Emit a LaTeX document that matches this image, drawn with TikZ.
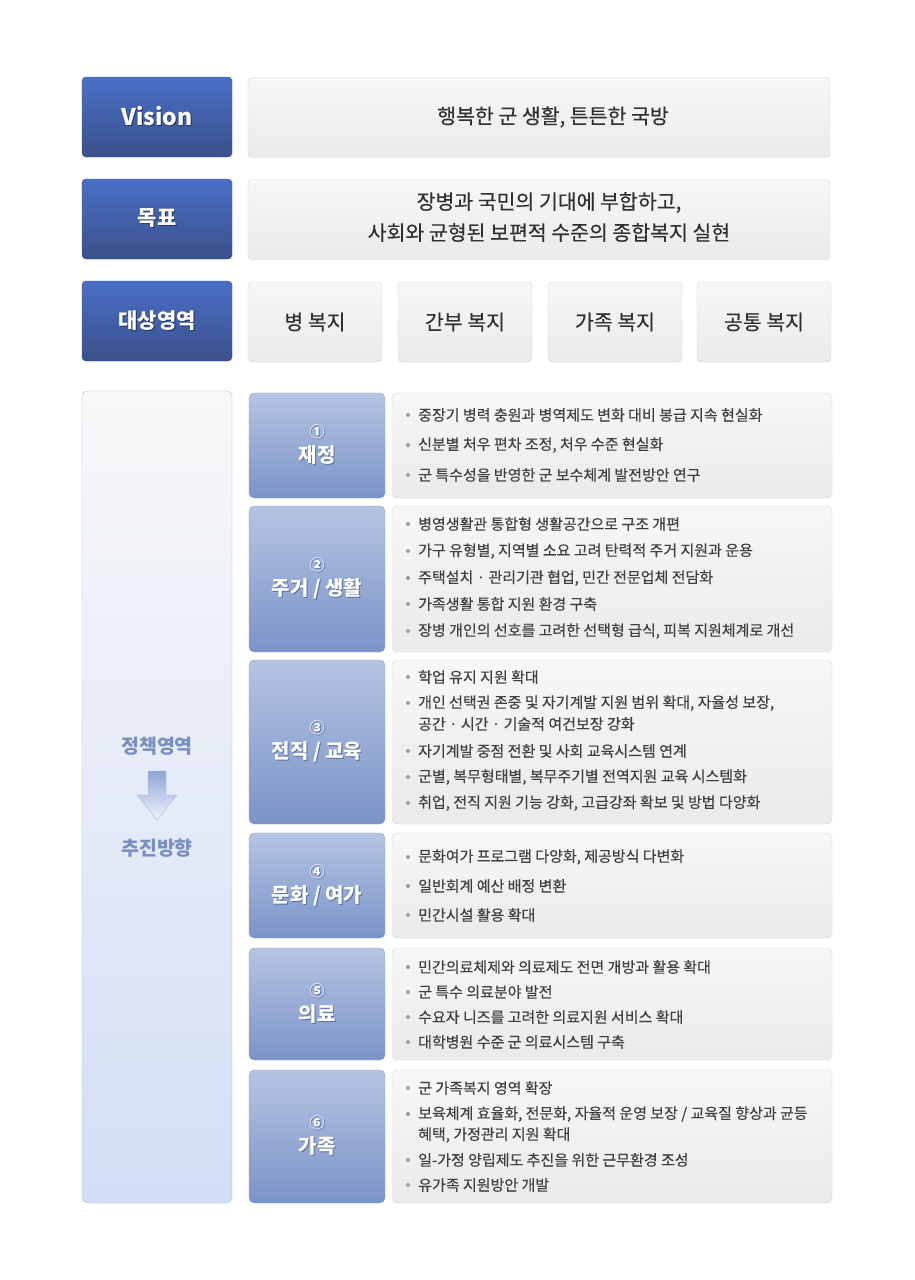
\documentclass[tikz,border=0pt]{standalone}
\usepackage{fontspec}
\setmainfont{Noto Sans CJK KR}
\newfontfamily\midfont[FakeBold=0.35]{Noto Sans CJK KR}

\definecolor{navytop}{HTML}{4A6FC8}
\definecolor{navybot}{HTML}{3A5089}
\definecolor{navyshade}{HTML}{24336A}
\definecolor{cattop}{HTML}{B6C4E2}
\definecolor{catbot}{HTML}{7A93C8}
\definecolor{catline}{HTML}{93A7D6}
\definecolor{catshade}{HTML}{5C6F9E}
\definecolor{greytop}{HTML}{F7F7F7}
\definecolor{greybot}{HTML}{EAEAEA}
\definecolor{greyline}{HTML}{D6D6D6}
\definecolor{paneltop}{HTML}{F8F8F8}
\definecolor{panelbot}{HTML}{D2DEF6}
\definecolor{panelline}{HTML}{A8BDE8}
\definecolor{paneltext}{HTML}{7A8EC4}
\definecolor{arrowtop}{HTML}{8FA4D8}
\definecolor{arrowbot}{HTML}{F0F4FB}
\definecolor{arrowline}{HTML}{A7B8E0}
\definecolor{darktext}{HTML}{303030}
\definecolor{itemtext}{HTML}{404040}
\definecolor{dotgrey}{HTML}{9C9C9C}

\newcommand{\shd}[2][navyshade]{\rlap{\kern1pt\raisebox{-1pt}{\textcolor{#1}{#2}}}#2}

\tikzset{
  tagbox/.style={rounded corners=4pt, draw=navybot, top color=navytop, bottom color=navybot,
    minimum width=150pt, minimum height=80pt, inner sep=0pt, text=white,
    font=\bfseries\fontsize{21}{24}\selectfont},
  headbox/.style={rounded corners=4pt, draw=greyline, top color=greytop, bottom color=greybot,
    minimum height=80pt, inner sep=0pt},
  headtxt/.style={inner sep=0pt, text=darktext, align=center,
    font=\midfont\fontsize{20.5}{31}\selectfont},
  catbox/.style={rounded corners=5pt, draw=catline, top color=cattop, bottom color=catbot,
    minimum width=136pt, inner sep=0pt, text=white, align=center,
    font=\bfseries\fontsize{20}{25}\selectfont},
  itembox/.style={rounded corners=5pt, draw=greyline, top color=greytop, bottom color=greybot,
    minimum width=440pt, inner sep=0pt},
  item/.style={anchor=west, inner sep=0pt, text=itemtext, font=\midfont\fontsize{15}{17}\selectfont},
  panel/.style={rounded corners=5pt, draw=panelline, top color=paneltop, bottom color=panelbot,
    minimum width=150pt, minimum height=812pt, inner sep=0pt},
  paneltxt/.style={text=paneltext, font=\bfseries\fontsize{19.5}{22}\selectfont}
}

\begin{document}
\begin{tikzpicture}[x=1pt,y=-1pt]
\fill[white] (0,0) rectangle (915,1280);
\useasboundingbox (0,0) rectangle (915,1280);

\node[tagbox] (vision) at (157,117) {\fontsize{23}{26}\selectfont\shd{Vision}};
\node[headbox, minimum width=582pt] (visionbox) at (539,117.5) {};
\node[headtxt] (visiontxt) at (553,117) {행복한 군 생활, 튼튼한 국방};

\node[tagbox] (goal) at (157,219) {\shd{목표}};
\node[headbox, minimum width=582pt] (goalbox) at (539,219.5) {};
\node[headtxt] (goaltxt) at (549,217) {장병과 국민의 기대에 부합하고,\\사회와 균형된 보편적 수준의 종합복지 실현};

\node[tagbox] (area) at (157,321) {\shd{대상영역}};
\foreach \x/\t [count=\i] in {315/병 복지, 465/간부 복지, 615/가족 복지, 764/공통 복지}{
    \node[headbox, minimum width=134pt, headtxt] (area\i) at (\x,322) {\t};
}

\node[panel] (panel) at (157,797) {};
\node[paneltxt] (policy) at (157,746) {정책영역};
\node[paneltxt] (direction) at (157,848) {추진방향};
\shade[top color=arrowtop, bottom color=arrowbot, draw=arrowline]
    (148,771) -- (166,771) -- (166,795) -- (177,795) -- (157,820) -- (137,795) -- (148,795) -- cycle;

\foreach \n/\y/\h/\d/\lab in {1/445.5/105/①/재정, 2/579/146/②/{주거 / 생활}, 3/742/164/③/{전직 / 교육},
    4/885.5/105/④/{문화 / 여가}, 5/1004/112/⑤/의료, 6/1136.5/133/⑥/가족}{
    \node[catbox, minimum height=\h pt] (cat\n) at (317,\y)
        {{\fontsize{15}{25}\selectfont\shd[catshade]{\d}}\\\shd[catshade]{\lab}};
    \node[itembox, minimum height=\h pt] (box\n) at (612,\y) {};
}

\foreach \y/\b/\t in {
    415/1/{중장기 병력 충원과 병역제도 변화 대비 봉급 지속 현실화},
    445/1/{신분별 처우 편차 조정, 처우 수준 현실화},
    475/1/{군 특수성을 반영한 군 보수체계 발전방안 연구},
    524/1/{병영생활관 통합형 생활공간으로 구조 개편},
    551/1/{가구 유형별, 지역별 소요 고려 탄력적 주거 지원과 운용},
    578/1/{주택설치 · 관리기관 협업, 민간 전문업체 전담화},
    604/1/{가족생활 통합 지원 환경 구축},
    631/1/{장병 개인의 선호를 고려한 선택형 급식, 피복 지원체계로 개선},
    677/1/{학업 유지 지원 확대},
    703/1/{개인 선택권 존중 및 자기계발 지원 범위 확대, 자율성 보장,},
    724/0/{공간 · 시간 · 기술적 여건보장 강화},
    751/1/{자기계발 중점 전환 및 사회 교육시스템 연계},
    777/1/{군별, 복무형태별, 복무주기별 전역지원 교육 시스템화},
    803/1/{취업, 전직 지원 기능 강화, 고급강좌 확보 및 방법 다양화},
    857/1/{문화여가 프로그램 다양화, 제공방식 다변화},
    886/1/{일반회계 예산 배정 변환},
    915/1/{민간시설 활용 확대},
    967/1/{민간의료체제와 의료제도 전면 개방과 활용 확대},
    992/1/{군 특수 의료분야 발전},
    1017/1/{수요자 니즈를 고려한 의료지원 서비스 확대},
    1042/1/{대학병원 수준 군 의료시스템 구축},
    1088/1/{군 가족복지 영역 확장},
    1114/1/{보육체계 효율화, 전문화, 자율적 운영 보장 / 교육질 향상과 균등},
    1135/0/{혜택, 가정관리 지원 확대},
    1160/1/{일-가정 양립제도 추진을 위한 근무환경 조성},
    1185/1/{유가족 지원방안 개발}}{
    \node[item] (it\y) at (418,\y) {\t};
    \ifnum\b=1 \fill[dotgrey] ([xshift=-10pt]it\y.west) circle (2pt); \fi
}
\end{tikzpicture}
\end{document}
